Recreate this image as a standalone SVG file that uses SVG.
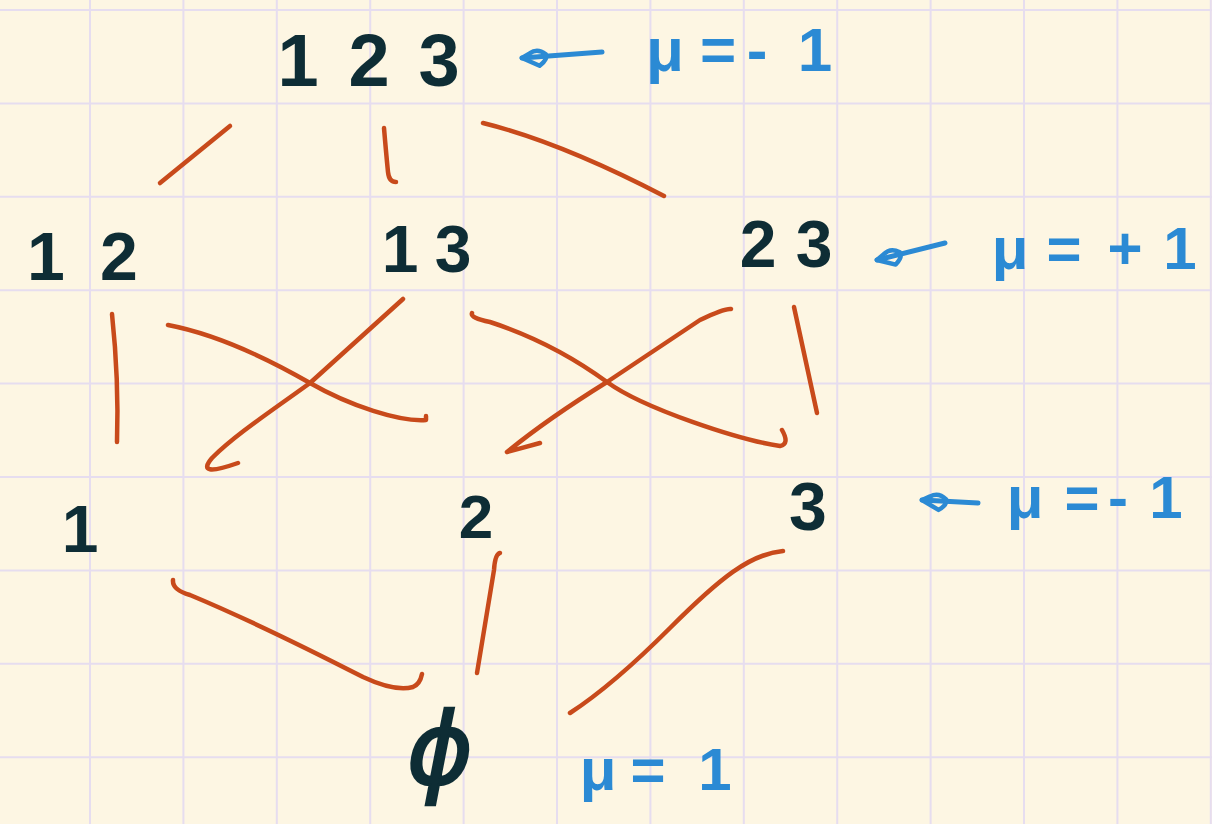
<svg xmlns="http://www.w3.org/2000/svg" width="1212" height="824" viewBox="0 0 1212 824">
  <defs>
    <style>
      .grid { stroke: #e6ddef; stroke-width: 2; fill: none; }
      .edge { stroke: #c84a1b; stroke-width: 4.5; fill: none; stroke-linecap: round; stroke-linejoin: round; }
      .pointer { stroke: #2b8ad4; stroke-width: 5; fill: none; stroke-linecap: round; }
      .node { font-family: "Liberation Sans", "DejaVu Sans", sans-serif; fill: #0e2d35; text-anchor: middle; font-weight: bold; }
      .empty { font-family: "DejaVu Sans", sans-serif; fill: #0e2d35; stroke: #0e2d35; stroke-width: 2.5; text-anchor: middle; font-weight: normal; font-style: italic; }
      .mu { font-family: "Liberation Sans", "DejaVu Sans", sans-serif; fill: #2b8ad4; text-anchor: middle; font-weight: bold; }
    </style>
    <marker id="loopHead" markerUnits="userSpaceOnUse" markerWidth="40" markerHeight="30" viewBox="-32 -15 40 30" refX="0" refY="0" orient="auto-start-reverse">
      <path d="M0,0 L-17,-9 Q-26,-3 -24,2 Q-16,9 -8,4 Z" fill="none" stroke="#2b8ad4" stroke-width="4.5" stroke-linejoin="round"/>
    </marker>
  </defs>

  <rect width="1212" height="824" fill="#fdf6e3"/>
  <path class="grid" d="M90,0V824 M183.4,0V824 M276.8,0V824 M370.2,0V824 M463.6,0V824 M557,0V824 M650.4,0V824 M743.8,0V824 M837.2,0V824 M930.6,0V824 M1024,0V824 M1117.4,0V824 M1210.8,0V824 M0,10H1212 M0,103.4H1212 M0,196.8H1212 M0,290.2H1212 M0,383.6H1212 M0,477H1212 M0,570.4H1212 M0,663.8H1212 M0,757.2H1212"/>

  <g id="connectors">
    <path class="edge" d="M230,126 L160,183"/>
    <path class="edge" d="M384,128 Q386,152 388,172 Q389,182 396,182"/>
    <path class="edge" d="M483,123 Q560,142 664,196"/>
    <path class="edge" d="M112,314 Q119,380 117,442"/>
    <path class="edge" d="M168,325 C220,335 270,360 310,383 S400,422 426,420 L426,416"/>
    <path class="edge" d="M403,299 L310,383 C270,412 235,435 212,458 Q195,478 238,463"/>
    <path class="edge" d="M472,313 Q470,318 490,322 C530,335 570,355 607,382 S740,440 780,446 Q790,444 782,430"/>
    <path class="edge" d="M731,309 Q725,308 700,320 L607,382 C570,405 540,425 507,452 L540,443"/>
    <path class="edge" d="M794,307 L817,413"/>
    <path class="edge" d="M173,580 Q172,590 190,595 C250,620 320,655 363,677 Q395,692 413,687 Q420,684 422,674"/>
    <path class="edge" d="M500,553 Q495,554 494,570 L477,673"/>
    <path class="edge" d="M783,551 C750,554 720,578 670,628 S590,700 570,713"/>
    <path class="pointer" marker-start="url(#loopHead)" d="M522,58 L602,52"/>
    <path class="pointer" marker-start="url(#loopHead)" d="M877,260 L945,243"/>
    <path class="pointer" marker-start="url(#loopHead)" d="M922,500 L978,503"/>
  </g>

  <g id="n123"><text class="node" font-size="74" x="298 369 439" y="86">123</text></g>
  <g id="n12"><text class="node" font-size="68" x="46 119" y="280">12</text></g>
  <g id="n13"><text class="node" font-size="66" x="400 453" y="272">13</text></g>
  <g id="n23"><text class="node" font-size="66" x="758 814" y="267">23</text></g>
  <g id="n1"><text class="node" font-size="66" x="80" y="552">1</text></g>
  <g id="n2"><text class="node" font-size="62" x="476" y="538">2</text></g>
  <g id="n3"><text class="node" font-size="68" x="808" y="530">3</text></g>
  <g id="nEmpty"><text class="empty" font-size="100" x="440" y="784">ϕ</text></g>

  <g id="mu123"><text class="mu" font-size="62" x="665 718 757 815" y="71">μ=-1</text></g>
  <g id="mu23"><text class="mu" font-size="60" x="1010 1064 1125 1180" y="269">μ=+1</text></g>
  <g id="mu3"><text class="mu" font-size="60" x="1025 1082 1118 1166" y="518">μ=-1</text></g>
  <g id="muEmpty"><text class="mu" font-size="60" x="598 648 715" y="790">μ=1</text></g>
</svg>
